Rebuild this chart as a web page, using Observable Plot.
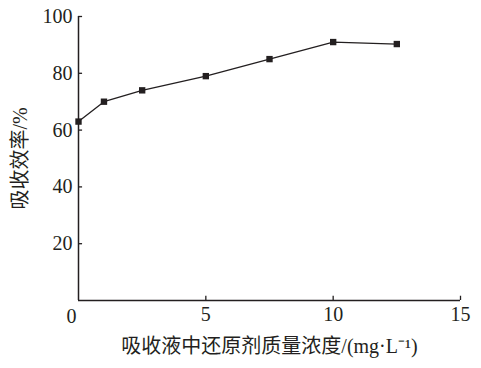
<!DOCTYPE html>
<html><head><meta charset="utf-8">
<script src="https://cdn.jsdelivr.net/npm/d3@7"></script>
<script src="https://cdn.jsdelivr.net/npm/@observablehq/plot@0.6"></script>
<style>body{margin:0;background:#fff}</style>
</head><body><div id="chart"></div>
<script>
const conc = [0, 1, 2.5, 5, 7.5, 10, 12.5];
const efficiency = [63, 70, 74, 79, 85, 91, 90.3];
const xTicks = [5, 10, 15];
const yTicks = [20, 40, 60, 80, 100];
const xLabel = "吸收液中还原剂质量浓度/(mg·L⁻¹)";
const yLabel = "吸收效率/%";

const data = conc.map((c, i) => ({c, e: efficiency[i]}));
const ink = "#231f20";
const font = "'Liberation Serif', 'Noto Sans CJK SC', serif";

const chart = Plot.plot({
  width: 481, height: 368,
  marginLeft: 78, marginRight: 21, marginTop: 16, marginBottom: 68,
  style: {fontFamily: font, fontSize: "20px", color: ink, background: "#fff"},
  x: {domain: [0, 15], axis: null},
  y: {domain: [0, 100], axis: null},
  marks: [
    Plot.ruleX([0], {y1: 0, y2: 100, stroke: ink, strokeWidth: 1.5}),
    Plot.ruleY([0], {x1: 0, x2: 15, stroke: ink, strokeWidth: 1.5}),
    Plot.ruleY(yTicks, {x1: 0, x2: 0.16, stroke: ink, strokeWidth: 1.3}),
    Plot.ruleX(xTicks, {y1: 0, y2: 1.5, stroke: ink, strokeWidth: 1.3}),
    Plot.axisY(yTicks, {tickSize: 0, tickPadding: 6, fontSize: 20, fill: ink, label: null}),
    Plot.axisX(xTicks, {tickSize: 0, tickPadding: 6, fontSize: 20, fill: ink, label: null}),
    Plot.text([0], {x: d => d, y: 0, text: d => String(d), dx: -7, dy: 16, fontSize: 20, fill: ink}),
    Plot.line(data, {x: "c", y: "e", stroke: ink, strokeWidth: 1.3}),
    Plot.dot(data, {x: "c", y: "e", symbol: "square", r: 3.6, fill: ink, stroke: "none"}),
    Plot.text([xLabel], {frameAnchor: "bottom", textAnchor: "middle", lineAnchor: "middle", dy: 46, fontSize: 20, fill: ink}),
    Plot.text([yLabel], {frameAnchor: "left", textAnchor: "middle", lineAnchor: "middle", dx: -58, rotate: -90, fontSize: 20, fill: ink})
  ]
});
document.getElementById("chart").append(chart);
</script>
</body></html>
